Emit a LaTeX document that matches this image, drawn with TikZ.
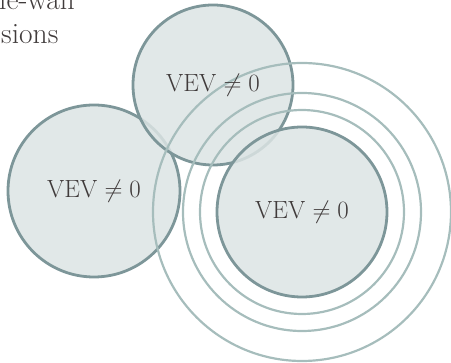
\documentclass[tikz,border=0pt]{standalone}
\usepackage{tikz}
\definecolor{fillc}{HTML}{DCE4E4}
\definecolor{edgec}{HTML}{7D9699}
\definecolor{ringc}{HTML}{A6BDBC}
\definecolor{txtc}{HTML}{403B3B}
\tikzset{
  bubble/.style={draw=edgec, line width=2.8pt, fill=fillc, fill opacity=0.85, draw opacity=1},
  ring/.style={draw=ringc, line width=2.2pt},
  vev/.style={text=txtc, font=\fontsize{24}{28}\selectfont, inner sep=0pt, text opacity=1},
  caption/.style={text=txtc, font=\fontsize{29.5}{34}\selectfont, inner sep=0pt, anchor=base west}
}
\begin{document}
\begin{tikzpicture}[x=1pt,y=-1pt]
\useasboundingbox (0,0) rectangle (451,363);
\clip (0,0) rectangle (451,363);
% circles
\node[bubble, circle, minimum size=172pt, inner sep=0pt] (left) at (94,191) {};
\node[bubble, circle, minimum size=160pt, inner sep=0pt] (top) at (213,85) {};
\node[bubble, circle, minimum size=170pt, inner sep=0pt] (right) at (302,212) {};
% rings around the right bubble
\coordinate (rc) at (302,212);
\draw[ring] (rc) circle[radius=102];
\draw[ring] (rc) circle[radius=119];
\draw[ring] (rc) circle[radius=149];
% labels
\node[vev] (lleft) at (left) {$\mathrm{VEV}\neq0$};
\node[vev] (ltop) at (top) {$\mathrm{VEV}\neq0$};
\node[vev] (lright) at (right) {$\mathrm{VEV}\neq0$};
\node[caption] (cap1) at (-1,10) {le-wall};
\node[caption] (cap2) at (1,44) {sions};
\end{tikzpicture}
\end{document}
